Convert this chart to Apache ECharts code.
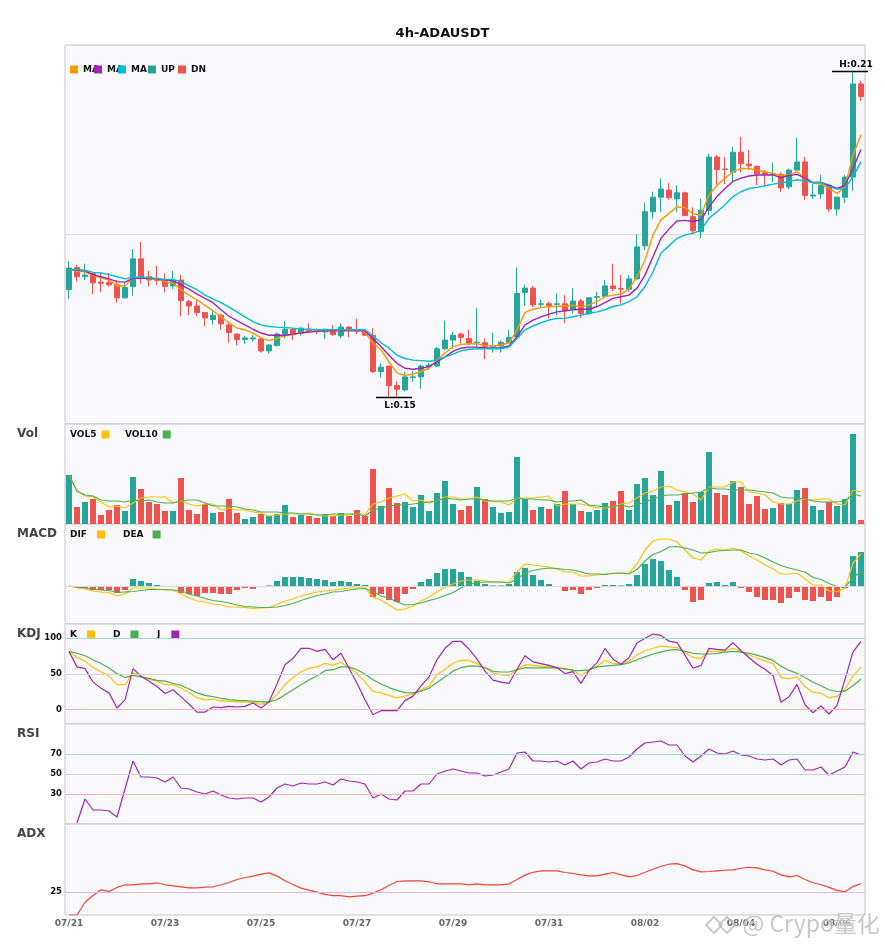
<!DOCTYPE html>
<html><head><meta charset="utf-8">
<script src="https://cdn.jsdelivr.net/npm/echarts@6/dist/echarts.min.js"></script>
<style>html,body{margin:0;padding:0;background:#fff}#c{width:885px;height:950px}</style>
</head><body><div id="c"></div>
<script>
const dates = [
'07/21 00:00','07/21 04:00','07/21 08:00','07/21 12:00','07/21 16:00','07/21 20:00',
'07/22 00:00','07/22 04:00','07/22 08:00','07/22 12:00','07/22 16:00','07/22 20:00',
'07/23 00:00','07/23 04:00','07/23 08:00','07/23 12:00','07/23 16:00','07/23 20:00',
'07/24 00:00','07/24 04:00','07/24 08:00','07/24 12:00','07/24 16:00','07/24 20:00',
'07/25 00:00','07/25 04:00','07/25 08:00','07/25 12:00','07/25 16:00','07/25 20:00',
'07/26 00:00','07/26 04:00','07/26 08:00','07/26 12:00','07/26 16:00','07/26 20:00',
'07/27 00:00','07/27 04:00','07/27 08:00','07/27 12:00','07/27 16:00','07/27 20:00',
'07/28 00:00','07/28 04:00','07/28 08:00','07/28 12:00','07/28 16:00','07/28 20:00',
'07/29 00:00','07/29 04:00','07/29 08:00','07/29 12:00','07/29 16:00','07/29 20:00',
'07/30 00:00','07/30 04:00','07/30 08:00','07/30 12:00','07/30 16:00','07/30 20:00',
'07/31 00:00','07/31 04:00','07/31 08:00','07/31 12:00','07/31 16:00','07/31 20:00',
'08/01 00:00','08/01 04:00','08/01 08:00','08/01 12:00','08/01 16:00','08/01 20:00',
'08/02 00:00','08/02 04:00','08/02 08:00','08/02 12:00','08/02 16:00','08/02 20:00',
'08/03 00:00','08/03 04:00','08/03 08:00','08/03 12:00','08/03 16:00','08/03 20:00',
'08/04 00:00','08/04 04:00','08/04 08:00','08/04 12:00','08/04 16:00','08/04 20:00',
'08/05 00:00','08/05 04:00','08/05 08:00','08/05 12:00','08/05 16:00','08/05 20:00',
'08/06 00:00','08/06 04:00','08/06 08:00','08/06 12:00'];

const open = [0.1698,0.1739,0.1722,0.1728,0.1712,0.1711,0.1707,0.1683,0.1704,0.1755,
0.1722,0.1719,0.1715,0.1705,0.1716,0.1676,0.1668,0.1656,0.1643,0.1651,
0.1633,0.1616,0.1606,0.1607,0.1607,0.1585,0.1595,0.1616,0.1625,0.1618,
0.1625,0.1624,0.1620,0.1622,0.1613,0.1629,0.1624,0.1620,0.1614,0.1547,
0.1557,0.1521,0.1513,0.1536,0.1537,0.1556,0.1557,0.1589,0.1605,0.1616,
0.1608,0.1600,0.1600,0.1592,0.1594,0.1600,0.1611,0.1693,0.1701,0.1671,
0.1672,0.1671,0.1672,0.1662,0.1677,0.1654,0.1684,0.1686,0.1705,0.1700,
0.1699,0.1718,0.1779,0.1842,0.1869,0.1882,0.1866,0.1877,0.1833,0.1805,
0.1844,0.1943,0.1921,0.1915,0.1952,0.1930,0.1926,0.1914,0.1911,0.1911,
0.1888,0.1919,0.1934,0.1871,0.1875,0.1891,0.1847,0.1869,0.1906,0.2078];
const close = [0.1738,0.1722,0.1725,0.1711,0.1710,0.1707,0.1683,0.1702,0.1755,0.1722,
0.1716,0.1715,0.1704,0.1715,0.1678,0.1668,0.1656,0.1646,0.1651,0.1635,
0.1619,0.1606,0.1609,0.1609,0.1585,0.1596,0.1616,0.1625,0.1616,0.1627,
0.1622,0.1621,0.1625,0.1615,0.1629,0.1625,0.1622,0.1614,0.1547,0.1555,
0.1521,0.1514,0.1537,0.1537,0.1557,0.1559,0.1589,0.1605,0.1614,0.1610,
0.1599,0.1601,0.1593,0.1593,0.1601,0.1610,0.1691,0.1701,0.1670,0.1672,
0.1669,0.1672,0.1659,0.1677,0.1654,0.1683,0.1685,0.1705,0.1700,0.1699,
0.1718,0.1777,0.1842,0.1869,0.1884,0.1868,0.1877,0.1835,0.1807,0.1845,
0.1943,0.1920,0.1920,0.1952,0.1931,0.1927,0.1912,0.1911,0.1912,0.1886,
0.1919,0.1934,0.1872,0.1873,0.1891,0.1847,0.1869,0.1906,0.2078,0.2055];
const low = [0.1681,0.1713,0.1716,0.1690,0.1694,0.1704,0.1674,0.1682,0.1687,0.1709,
0.1704,0.1707,0.1693,0.1699,0.1649,0.1651,0.1649,0.1631,0.1634,0.1624,
0.1600,0.1595,0.1598,0.1602,0.1582,0.1580,0.1593,0.1608,0.1605,0.1613,
0.1618,0.1616,0.1607,0.1613,0.1608,0.1610,0.1616,0.1613,0.1544,0.1536,
0.1500,0.1499,0.1510,0.1528,0.1515,0.1550,0.1555,0.1587,0.1589,0.1599,
0.1596,0.1593,0.1570,0.1582,0.1582,0.1599,0.1610,0.1668,0.1666,0.1666,
0.1645,0.1651,0.1636,0.1654,0.1646,0.1651,0.1667,0.1685,0.1696,0.1672,
0.1694,0.1717,0.1771,0.1829,0.1842,0.1864,0.1842,0.1834,0.1801,0.1793,
0.1836,0.1891,0.1893,0.1896,0.1915,0.1919,0.1891,0.1891,0.1897,0.1879,
0.1884,0.1918,0.1864,0.1866,0.1866,0.1842,0.1835,0.1858,0.1881,0.2047];
const high = [0.1751,0.1744,0.1746,0.1729,0.1728,0.1729,0.1716,0.1710,0.1773,0.1786,
0.1733,0.1742,0.1728,0.1733,0.1725,0.1679,0.1679,0.1657,0.1659,0.1653,
0.1636,0.1617,0.1613,0.1614,0.1610,0.1597,0.1619,0.1641,0.1627,0.1629,
0.1636,0.1626,0.1626,0.1633,0.1636,0.1631,0.1644,0.1624,0.1627,0.1562,
0.1558,0.1529,0.1546,0.1548,0.1560,0.1563,0.1592,0.1641,0.1620,0.1619,
0.1624,0.1664,0.1608,0.1619,0.1604,0.1624,0.1739,0.1707,0.1705,0.1680,
0.1676,0.1691,0.1688,0.1701,0.1681,0.1684,0.1694,0.1716,0.1746,0.1725,
0.1725,0.1801,0.1859,0.1879,0.1903,0.1895,0.1891,0.1879,0.1850,0.1866,
0.1949,0.1947,0.1943,0.1962,0.1980,0.1956,0.1927,0.1919,0.1933,0.1915,
0.1922,0.1979,0.1943,0.1893,0.1910,0.1892,0.1870,0.1910,0.2101,0.2084];

const ma5 = [0.1736,0.1732,0.1731,0.1724,0.1720,0.1716,0.1705,0.1705,0.1720,0.1720,
0.1718,0.1717,0.1713,0.1710,0.1698,0.1688,0.1679,0.1669,0.1659,0.1648,
0.1637,0.1627,0.1624,0.1618,0.1609,0.1604,0.1608,0.1613,0.1615,0.1619,
0.1621,0.1622,0.1622,0.1622,0.1622,0.1623,0.1624,0.1620,0.1599,0.1587,
0.1565,0.1544,0.1540,0.1542,0.1547,0.1553,0.1568,0.1581,0.1593,0.1597,
0.1598,0.1598,0.1595,0.1594,0.1596,0.1600,0.1624,0.1656,0.1662,0.1665,
0.1667,0.1667,0.1668,0.1669,0.1666,0.1670,0.1676,0.1685,0.1688,0.1690,
0.1699,0.1722,0.1753,0.1799,0.1827,0.1839,0.1851,0.1850,0.1838,0.1836,
0.1873,0.1891,0.1904,0.1916,0.1922,0.1922,0.1919,0.1916,0.1913,0.1909,
0.1910,0.1916,0.1904,0.1895,0.1893,0.1885,0.1876,0.1888,0.1947,0.1984];
const ma10 = [0.1736,0.1734,0.1733,0.1726,0.1722,0.1718,0.1713,0.1712,0.1719,0.1719,
0.1719,0.1718,0.1716,0.1715,0.1707,0.1699,0.1690,0.1682,0.1674,0.1661,
0.1649,0.1641,0.1633,0.1625,0.1618,0.1614,0.1614,0.1614,0.1616,0.1618,
0.1620,0.1621,0.1622,0.1622,0.1622,0.1622,0.1622,0.1622,0.1608,0.1593,
0.1577,0.1562,0.1553,0.1551,0.1553,0.1556,0.1565,0.1574,0.1584,0.1590,
0.1592,0.1592,0.1591,0.1590,0.1591,0.1594,0.1611,0.1633,0.1642,0.1648,
0.1653,0.1657,0.1659,0.1661,0.1662,0.1662,0.1667,0.1674,0.1682,0.1685,
0.1688,0.1701,0.1725,0.1759,0.1793,0.1810,0.1825,0.1826,0.1824,0.1827,
0.1851,0.1870,0.1885,0.1898,0.1904,0.1908,0.1910,0.1910,0.1910,0.1905,
0.1909,0.1911,0.1904,0.1896,0.1896,0.1891,0.1885,0.1891,0.1922,0.1957];
const ma20 = [0.1736,0.1735,0.1734,0.1730,0.1729,0.1726,0.1722,0.1718,0.1721,0.1721,
0.1720,0.1719,0.1717,0.1717,0.1713,0.1705,0.1698,0.1688,0.1681,0.1674,
0.1666,0.1657,0.1648,0.1639,0.1633,0.1630,0.1629,0.1628,0.1627,0.1625,
0.1625,0.1624,0.1624,0.1624,0.1624,0.1624,0.1624,0.1624,0.1613,0.1600,
0.1590,0.1577,0.1571,0.1568,0.1567,0.1566,0.1568,0.1574,0.1579,0.1585,
0.1588,0.1589,0.1589,0.1589,0.1589,0.1592,0.1608,0.1624,0.1631,0.1637,
0.1642,0.1645,0.1645,0.1648,0.1651,0.1654,0.1657,0.1661,0.1667,0.1670,
0.1676,0.1685,0.1704,0.1731,0.1766,0.1779,0.1793,0.1799,0.1802,0.1808,
0.1830,0.1842,0.1855,0.1870,0.1879,0.1885,0.1887,0.1890,0.1893,0.1895,
0.1898,0.1901,0.1899,0.1896,0.1896,0.1888,0.1884,0.1885,0.1907,0.1934];

const volume = [49,17,22,25,9,14,19,13,47,35,
22,20,13,13,46,14,10,20,11,12,
25,11,5,7,10,8,10,19,7,9,
8,6,10,8,11,8,14,8,55,18,
36,21,22,17,29,13,31,43,20,14,
18,37,25,17,11,12,67,25,14,17,
15,20,33,20,13,12,14,21,23,33,
14,40,46,29,53,19,23,31,22,32,
72,31,29,43,37,20,28,15,16,21,
20,34,36,18,14,22,18,25,90,4];
const vol5 = [49,33,28,27,22,17,18,16,21,26,
27,27,27,21,23,20,18,20,20,14,
16,14,14,12,11,8,9,10,10,10,
11,9,8,8,9,9,10,10,20,22,
26,28,30,23,24,21,23,27,27,25,
25,27,23,22,22,19,26,26,26,27,
28,18,20,20,20,18,16,16,17,20,
21,26,31,33,37,38,34,32,30,24,
37,37,37,42,42,32,31,29,22,20,
20,23,25,24,25,25,20,19,34,32];
const vol10 = [49,33,29,28,24,23,23,22,24,23,
24,22,21,21,23,24,24,21,18,18,
18,17,15,14,12,12,12,11,11,10,
10,9,9,10,10,10,10,8,14,16,
18,19,19,20,21,22,23,26,25,24,
25,25,24,23,23,23,26,25,25,24,
24,22,23,23,24,19,18,17,17,19,
17,19,22,25,28,29,29,30,31,32,
36,35,35,34,34,34,33,32,31,27,
26,26,25,23,22,22,22,23,30,28];

const macdHist = [0,-2,-2,-4,-4,-4,-7,-4,7,5,
3,1,-1,-0.5,-7,-8,-10,-7,-7,-8,
-8,-4,-2,-3,-1,0.5,5,9,9,9,
8,7,6,4,5,4,2,1,-11,-8,
-14,-16,-8,-3,4,7,13,17,17,14,
9,5,2,0.5,0.5,2,14,18,11,6,
2,-1,-5,-4,-8,-4,-2,1,1,0.5,
2,11,22,27,25,16,9,-4,-16,-14,
3,4,1,4,-2,-6,-11,-14,-14,-17,
-12,-6,-14,-15,-11,-15,-11,-2,30,34];
const dif = [0,-2,-3,-5,-6,-6.5,-10,-8,-2,-2,
-2,-3,-4,-4,-8,-12,-15,-16,-18,-19,
-21,-21,-21.5,-22.5,-22,-21.5,-18.5,-15,-13,-10,
-8,-6,-5,-4,-3,-2,-2,-2,-11,-14,
-19,-24,-23,-20,-15,-11,-6,-1,2,5,
6,6,5,4,4,4,14,22,21,20,
19,17,14,14,10,10,11,12,13,13,
13,22,36,45,47,47,44,36,28,26,
35,37,36,38,35,30,26,21,17,12,
12,13,7,1,1,-5,-6,-2,23,32];
const dea = [0,-1,-2,-3,-4,-4.5,-6.5,-6,-5.5,-4.5,
-3.5,-3.5,-3.5,-4,-4.5,-8,-10,-12.5,-14.5,-15.5,
-17,-19,-20.5,-21,-21.5,-21.5,-21,-19.5,-17.5,-14.5,
-12,-9.5,-8,-6,-5.5,-4,-3,-2.5,-5.5,-10,
-12,-16,-19,-18.5,-17,-14.5,-12.5,-9.5,-6.5,-2,
1.5,3.5,4,4,4,3,7,13,15.5,17,
18,17.5,16.5,16,14,12,12,11.5,12.5,13,
12,16.5,25,31.5,34.5,39,39.5,38,36,33,
33.5,35,35.5,36,36,33,31.5,28,24,20.5,
18,16,14,8.5,6.5,2.5,-0.5,-1,8,15];

const kLine = [81.6,73,68,59,53,47,35,35,52,47,
42.5,40,35,35,30,24,16.5,13.7,15,12,
12,11,11,10,7.5,11,21,35,45,53,
58,60,65,62,66.5,59,51,39,25.5,23.5,
20,16.5,19,22.6,28,33,49,56.6,65,69,
69,64.6,58,52,48.6,47.6,56.6,63,62,61,
60,58.5,56.6,56,48,55.7,61,69,65,64,
68,77,82.5,86,89,88,87,80,73,72,
81.6,81.6,82.5,86,81.6,77,72,68,64.6,45,
43.4,46,32,24.5,23,16.5,19,29,47,60];
const dLine = [81.6,79,75.5,70,64.6,58.5,50.5,45,48,46,
44,41,40,37,34,29,23.6,20,18.4,16,
14,13,12.7,12,11,11,14,21,28,35,
41.5,47.6,54.7,56,60,60,56,50,42,36,
31,27,24,23.6,26,30,38,46,54,59,
61,61,59,53.8,52.8,52.8,56,58.5,58.5,58.5,
58.5,58.5,57.5,55,54.7,55.7,60,61,62,63,
65.6,70,74,78,81,83.5,84,81.6,79,78,
78,79,80.7,81.6,80.7,79,76.4,73,69,61,
55,51,45,38.5,33.5,28,25.5,26,33.5,43];
const jLine = [81.6,60,57.5,39,30,23.6,2.4,13.7,57.5,47,
40,32.5,22.6,28,18,8,-3.3,-3.3,3.8,2.8,
4.7,3.8,4.7,9.4,2.4,11,36,63,72,86,
86,81.6,84.4,70,79,58,37,14,-7,-1.4,
-1.4,-1.4,12.7,19,33.5,46,70,86,95.8,95.8,
85,70.8,54,41.5,38.7,36.8,56.6,75.5,67,64.6,
62,59,50.5,53.3,36.8,55,65.6,85.8,70.8,63.7,
73,93.4,100,106,104,96,94,76.4,58,62,
86,84.4,83.5,94,82.5,73,63.7,56.6,48,10.4,
18,35.4,7,-4.2,5.2,-6,6,42.5,81,95.8];

const rsi = [null,1,25,14,14,13,7,35,63,47,
47,46,42,47,36,35,32,30,33,29,
26,25,26,26,22,27,36,40,38,41,
40,40,42,39,45,43,42,40,26,30,
25,24,33,33,40,40,50,53,55,53,
51,51,48,49,52,55,71,72,63,63,
62,63,59,63,55,61,62,65,63,63,
67,75,81,82,83,79,79,68,62,68,
75,71,70,73,69,68,65,64,65,59,
64,65,54,54,57,49,53,57,72,69];

const adx = [0,0,14,21.5,27.7,25.9,30.3,33.2,33.2,34.3,
34.3,35.4,33.2,32.1,31,29.9,29.9,30.6,31,33.2,
35.7,39,41.2,42.7,44.9,46.3,42.7,37.6,33.6,29.5,
27.4,25.2,22.6,21.2,21.2,20,20.8,21.2,24,27.7,
32.5,36.8,37.6,37.6,37.6,36.5,34.3,34.3,34.3,34.3,
33.2,34.3,33.2,33.2,33.2,34.3,39,43.8,47,48.5,
48.5,48.5,46.7,45.6,44.1,43,43,44.9,46.7,44.1,
41.9,43.4,47,50.3,53.6,55.8,56.5,54,49.6,47.4,
47.8,48.5,49.2,49.6,51.4,52.5,51.8,49.6,48.1,44.1,
41.9,43.4,39,35.4,33.2,30.3,27,25.5,31.4,34.3];

const kdjLevels = [100, 50, 0];
const rsiLevels = [70, 50, 30];
const adxLevels = [25];

const UP = '#26a69a', DN = '#ef5350';
const FONT = 'DejaVu Sans';
const candle = dates.map((d, i) => [open[i], close[i], low[i], high[i]]);
const maxHigh = Math.max(...high), hiIdx = high.indexOf(maxHigh);
const minLow = Math.min(...low), loIdx = low.indexOf(minLow);

const gridBase = { left: 65, right: 20, show: true, backgroundColor: '#f9f9fb', borderColor: '#c4c4cc', borderWidth: 1 };
const tops = [45, 424, 524, 624, 724, 824];
const heights = [379, 100, 100, 100, 100, 91];
const yRanges = [[0.145, 0.215], [0, 100], [-38, 62], [-20, 120], [0, 100], [0, 100]];

const lvlColor = { hi: '#a5d8d3', mid: '#d0d0d6', lo: '#f6b3b3' };
function levelLines(levels, colors) {
  return {
    symbol: ['none', 'none'], silent: true, animation: false,
    label: { show: true, position: 'start', distance: 3, color: '#111', fontWeight: 'bold', fontSize: 8.5, fontFamily: FONT },
    data: levels.map((v, i) => ({ yAxis: v, lineStyle: { color: colors[i], width: 1, type: 'solid' } }))
  };
}
const lineS = (name, data, color, xi, w) => ({
  name, type: 'line', data, xAxisIndex: xi, yAxisIndex: xi, symbol: 'none', showSymbol: false,
  lineStyle: { color, width: w || 1.2 }, itemStyle: { color }, animation: false
});

const legText = { fontSize: 9, fontWeight: 'bold', color: '#111', fontFamily: FONT };
const mkLegend = (name, left, top, align, fmt, padR) => ({
  data: [name], left, top, padding: 0, itemWidth: 8, itemHeight: 8, icon: 'rect',
  align: align || 'left', selectedMode: false,
  textStyle: Object.assign({}, legText, padR ? { padding: [0, padR, 0, 0] } : {}),
  formatter: fmt || '{name}'
});
const panelTitle = (text, top) => ({ text, left: 17, top, padding: 0,
  textStyle: { fontSize: 12, fontWeight: 'bold', color: '#444', fontFamily: FONT } });

const option = {
  animation: false,
  backgroundColor: '#fff',
  title: [
    { text: '4h-ADAUSDT', left: 'center', top: 27, padding: 0,
      textStyle: { fontSize: 13, fontWeight: 'bold', color: '#111', fontFamily: FONT } },
    panelTitle('Vol', 428), panelTitle('MACD', 528), panelTitle('KDJ', 628),
    panelTitle('RSI', 728), panelTitle('ADX', 828)
  ],
  legend: [
    mkLegend('MA5', 70, 65, 'left', 'MA'),
    mkLegend('MA10', 94, 65, 'left', 'MA'),
    mkLegend('MA20', 118, 65, 'left', 'MA'),
    mkLegend('UP', 148, 65),
    mkLegend('DN', 178, 65),
    mkLegend('VOL5', 70, 430, 'right'),
    mkLegend('VOL10', 125, 430, 'right'),
    mkLegend('DIF', 70, 530, 'right', null, 5),
    mkLegend('DEA', 123, 530, 'right', null, 4),
    mkLegend('K', 70, 630, 'right', null, 5),
    mkLegend('D', 113, 630, 'right', null, 5),
    mkLegend('J', 157, 630, 'right', null, 6)
  ],
  grid: tops.map((t, k) => Object.assign({}, gridBase, { top: t, height: heights[k] })),
  xAxis: tops.map((t, k) => ({
    type: 'category', gridIndex: k, data: dates, boundaryGap: true,
    axisLine: { show: false }, axisTick: { show: false }, splitLine: { show: false },
    axisLabel: { show: k === 5, interval: 11, formatter: v => v.slice(0, 5), color: '#666',
      fontWeight: 'bold', fontSize: 9, fontFamily: FONT, margin: 4 }
  })),
  yAxis: yRanges.map((r, k) => ({
    type: 'value', gridIndex: k, min: r[0], max: r[1], interval: k === 0 ? 0.035 : undefined,
    axisLabel: { show: false }, axisLine: { show: false }, axisTick: { show: false },
    splitLine: { show: k === 0, lineStyle: { color: '#dcdce2', width: 1 } }
  })),
  series: [
    {
      name: 'Price', type: 'candlestick', data: candle, xAxisIndex: 0, yAxisIndex: 0, barWidth: 6,
      itemStyle: { color: UP, color0: DN, borderColor: UP, borderColor0: DN, borderWidth: 1 },
      markPoint: {
        symbol: 'rect', symbolSize: [36, 1.5], silent: true, animation: false,
        itemStyle: { color: '#000' },
        label: { color: '#000', fontWeight: 'bold', fontSize: 9, fontFamily: FONT },
        data: [
          { coord: [hiIdx, maxHigh], symbolOffset: [-3, 0],
            label: { show: true, position: 'top', distance: 2, offset: [6, 0], formatter: 'H:' + maxHigh.toFixed(2) } },
          { coord: [loIdx, minLow], symbolOffset: [-3, 0],
            label: { show: true, position: 'bottom', distance: 3, offset: [6, 0], formatter: 'L:' + minLow.toFixed(2) } }
        ]
      }
    },
    lineS('MA5', ma5, '#ff9800', 0, 1.4),
    lineS('MA10', ma10, '#9c27b0', 0, 1.4),
    lineS('MA20', ma20, '#00bcd4', 0, 1.4),
    { name: 'UP', type: 'line', data: [], xAxisIndex: 0, yAxisIndex: 0, itemStyle: { color: UP }, lineStyle: { color: UP } },
    { name: 'DN', type: 'line', data: [], xAxisIndex: 0, yAxisIndex: 0, itemStyle: { color: DN }, lineStyle: { color: DN } },
    {
      name: 'Volume', type: 'bar', data: volume, xAxisIndex: 1, yAxisIndex: 1, barWidth: 6,
      itemStyle: { color: p => close[p.dataIndex] >= open[p.dataIndex] ? UP : DN }
    },
    lineS('VOL5', vol5, '#ffc107', 1),
    lineS('VOL10', vol10, '#4caf50', 1),
    {
      name: 'MACD', type: 'bar', data: macdHist, xAxisIndex: 2, yAxisIndex: 2, barWidth: 6,
      itemStyle: { color: p => p.value >= 0 ? UP : DN },
      markLine: { symbol: ['none', 'none'], silent: true, animation: false, label: { show: false },
        data: [{ yAxis: 0, lineStyle: { color: '#d6d6dc', width: 1, type: 'solid' } }] }
    },
    lineS('DIF', dif, '#ffc107', 2),
    lineS('DEA', dea, '#4caf50', 2),
    Object.assign(lineS('K', kLine, '#ffc107', 3), { markLine: levelLines(kdjLevels, [lvlColor.hi, lvlColor.mid, lvlColor.lo]) }),
    lineS('D', dLine, '#4caf50', 3),
    lineS('J', jLine, '#9c27b0', 3),
    Object.assign(lineS('RSI', rsi, '#9c27b0', 4), { connectNulls: false, markLine: levelLines(rsiLevels, [lvlColor.hi, lvlColor.mid, lvlColor.lo]) }),
    Object.assign(lineS('ADX', adx, '#f44336', 5), { markLine: levelLines(adxLevels, ['#dcb6e4']) })
  ],
  graphic: [
    { type: 'polygon', z: 100, silent: true,
      shape: { points: [[706, 925], [714, 917], [722, 925], [714, 933]] },
      style: { fill: 'none', stroke: 'rgba(190,190,190,0.8)', lineWidth: 2 } },
    { type: 'polygon', z: 100, silent: true,
      shape: { points: [[719, 925], [727, 917], [735, 925], [727, 933]] },
      style: { fill: 'none', stroke: 'rgba(190,190,190,0.8)', lineWidth: 2 } },
    { type: 'text', left: 742, top: 911, z: 100, silent: true,
      style: { text: '@ Crypo量化', fontSize: 23, fontFamily: 'Noto Sans CJK SC', fill: 'rgba(185,185,185,0.8)',
        stroke: 'rgba(255,255,255,0.6)', lineWidth: 1 } }
  ]
};
const chart = echarts.init(document.getElementById('c'), null, { renderer: 'canvas' });
chart.setOption(option);
</script></body></html>
